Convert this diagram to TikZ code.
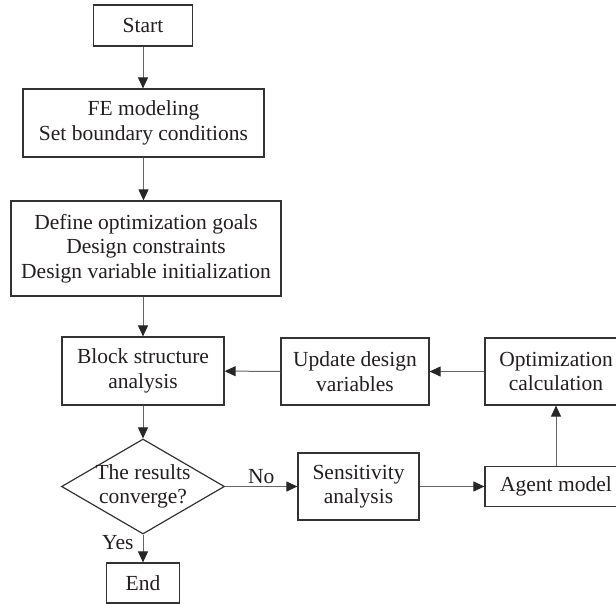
\documentclass[tikz,border=0pt]{standalone}
\usepackage{fontspec}
\setmainfont{Liberation Serif}
\usetikzlibrary{shapes.geometric, arrows.meta, positioning, calc}
\definecolor{boxc}{HTML}{333333}
\definecolor{linec}{HTML}{666666}
\definecolor{txtc}{HTML}{231F20}

\begin{document}
\begin{tikzpicture}[x=1pt, y=-1pt,
    box/.style={draw=boxc, line width=1.2pt, inner sep=0pt, align=center,
        font=\fontsize{21.5}{24.5}\selectfont, text=txtc},
    decision/.style={diamond, draw=boxc, line width=1.2pt, inner sep=0pt,
        minimum width=163pt, minimum height=95pt},
    lbl/.style={font=\fontsize{21.5}{24.5}\selectfont, text=txtc, inner sep=2pt},
    arr/.style={draw=linec, line width=1pt,
        -{Triangle[length=11pt, width=10pt, color=black!85]}}]
            \useasboundingbox (0,0) rectangle (616,604);

            \node[box, minimum width=99pt, minimum height=41pt] (start) at (143,25.5) {Start};
            \node[box, minimum width=241pt, minimum height=68pt] (fe) at (143.5,123) {FE modeling\\Set boundary conditions};
            \node[box, minimum width=270pt, minimum height=95pt] (goals) at (146,248.5) {Define optimization goals\\Design constraints\\Design variable initialization};
            \node[box, minimum width=162pt, minimum height=68pt] (block) at (143,371) {Block structure\\analysis};
            \node[decision, label={[lbl, align=center]center:The results\\converge?}] (conv) at (143,486.5) {};
            \node[box, minimum width=73pt, minimum height=40pt] (end) at (143,583) {End};
            \node[box, minimum width=148pt, minimum height=67pt] (update) at (355,371.5) {Update design\\variables};
            \node[box, minimum width=142pt, minimum height=67pt] (optim) at (556,371.5) {Optimization\\calculation};
            \node[box, minimum width=121pt, minimum height=67pt] (sens) at (358.5,486.5) {Sensitivity\\analysis};
            \node[box, minimum width=142pt, minimum height=40pt] (agent) at (556,486.5) {Agent model};

            \path
            (start) edge[arr] (start |- fe.north)
            (fe.south) edge[arr] (fe.south |- goals.north)
            (goals.south -| block) edge[arr] (block)
            (block) edge[arr] (conv)
            (conv) edge[arr] node[lbl, left=7pt, pos=0.3] {Yes} (end)
            (conv) edge[arr] node[lbl, above, pos=0.5] {No} (sens)
            (sens) edge[arr] (agent)
            (agent) edge[arr] (optim)
            (optim) edge[arr] (update)
            (update) edge[arr] (block)
            ;
        \end{tikzpicture}
\end{document}
